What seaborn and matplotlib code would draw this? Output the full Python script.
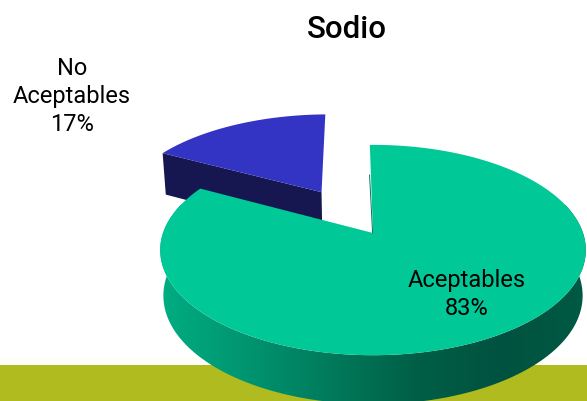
import numpy as np
import matplotlib
matplotlib.use('Agg')
import matplotlib.pyplot as plt
import seaborn as sns
from matplotlib.patches import Polygon

titulo = 'Sodio'
categorias = ['No\nAceptables', 'Aceptables']
valores = [17, 83]
colores_cara = ['#3333c4', '#00c997']
color_lado_azul = '#161650'
color_fondo = '#afbb1f'

sns.set_theme(style='white')
plt.rcParams['font.family'] = ['Roboto', 'DejaVu Sans']

# sombreado del borde verde, de izquierda a derecha
sombra = sns.blend_palette(['#00ad82', '#009570', '#007a5b', '#005f46', '#005240', '#005a43'], as_cmap=True)

# parametros de la vista en perspectiva (pixeles de la figura)
cx, cy, rx = 373, 234, 210
a, c = -64.5, 0.162
inicio = 1.0  # grados, medido desde las 12 hacia la izquierda
separacion = 0.5


def proyectar(x, y):
    d = 1 + c * y
    return cx + rx * x / d, (a * y + cy) / d


def proyectar_base(x, y):
    px, py = proyectar(x, y)
    return cx + (px - cx) * 0.985, py + 45 - 4 * y


def arco(g0, g1, n=200, ox=0, oy=0):
    g = np.radians(np.linspace(g0, g1, n))
    return ox - np.sin(g), oy + np.cos(g)


fig, ax = plt.subplots(figsize=(5.87, 4.02), dpi=100)
fig.subplots_adjust(0, 0, 1, 1)
ax.axis('off')

ax.axhspan(359, 366, color='#fffdf7', lw=0, zorder=0)
ax.axhspan(366, 402, color=color_fondo, lw=0, zorder=0)

angulos = np.cumsum([0] + [v * 3.6 for v in valores]) + inicio

# porcion azul separada del centro
medio = np.radians((angulos[0] + angulos[1]) / 2)
ox, oy = -separacion * np.sin(medio), separacion * np.cos(medio)
xa, ya = arco(angulos[0], angulos[1], ox=ox, oy=oy)

# lado recto visible de la porcion azul
xl = [ox, xa[-1]]
yl = [oy, ya[-1]]
p_sup = proyectar(np.array(xl), np.array(yl))
p_inf = proyectar_base(np.array(xl), np.array(yl))
ax.fill(np.r_[p_sup[0], p_inf[0][::-1]], np.r_[p_sup[1], p_inf[1][::-1]], color=color_lado_azul, lw=0, zorder=1)
px, py = proyectar(np.r_[ox, xa], np.r_[oy, ya])
ax.fill(px, py, color=colores_cara[0], lw=0, zorder=2)

# borde de la porcion verde: degradado recortado con la forma del lado
xv, yv = arco(angulos[1], angulos[2], n=400)
sx, sy = proyectar(xv, yv)
bx, by = proyectar_base(xv, yv)
cerca = yv < 0.3  # la parte de atras queda tapada por la cara superior
lado = Polygon(np.c_[np.r_[sx[cerca], bx[cerca][::-1]], np.r_[sy[cerca], by[cerca][::-1]]],
               transform=ax.transData, fc='none', ec='none')
ax.add_patch(lado)
degradado = ax.imshow(np.linspace(0, 1, 256)[None, :], cmap=sombra, extent=(160, 587, 420, 140), aspect='auto', zorder=3)
degradado.set_clip_path(lado)

# cara superior verde y el corte oscuro de las 12
px, py = proyectar(np.r_[0, xv], np.r_[0, yv])
ax.fill(px, py, color=colores_cara[1], lw=0, zorder=4)
ax.plot([cx - 0.4, sx[-1] - 0.3], [cy, sy[-1] + 30], color='#00785c', lw=0.7, zorder=5)

ax.set_xlim(0, 587)
ax.set_ylim(402, 0)

ax.text(347, 30, titulo, ha='center', va='center', fontsize=22.5, fontweight='medium', color='black', zorder=6)
ax.text(72, 96.5, f'{categorias[0]}\n{valores[0]}%', ha='center', va='center', fontsize=17, linespacing=1.3,
        color='black', zorder=6)
ax.text(467, 294.5, f'{categorias[1]}\n{valores[1]}%', ha='center', va='center', fontsize=17, linespacing=1.3,
        color='black', zorder=6)

fig.savefig('out.png', dpi=100)
